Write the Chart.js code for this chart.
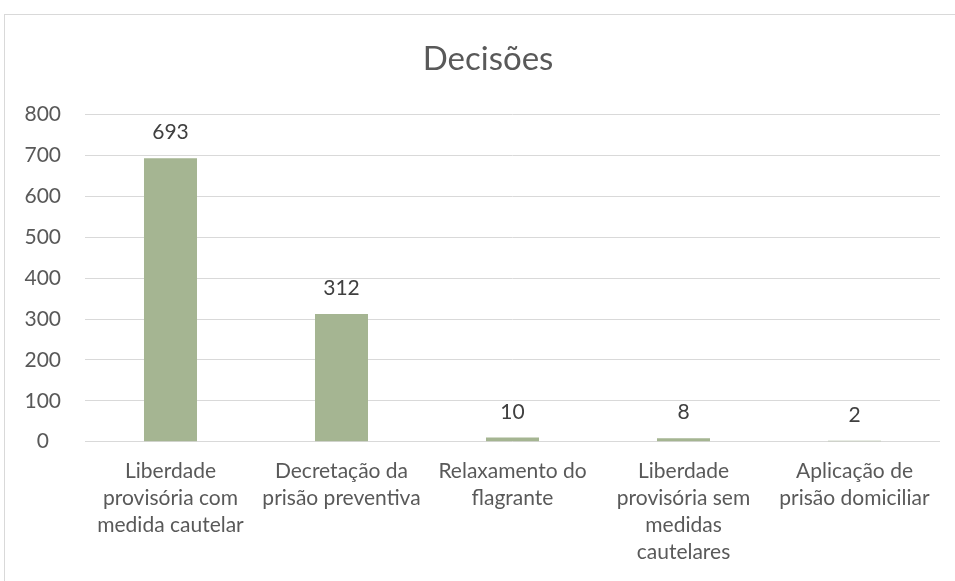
<!DOCTYPE html>
<html>
<head>
<meta charset="utf-8">
<script src="https://cdn.jsdelivr.net/npm/chart.js@4/dist/chart.umd.min.js"></script>
<style>
  html, body { margin: 0; padding: 0; background: #fff; }
  #wrap { position: relative; width: 955px; height: 581px; overflow: hidden; }
  #frame { position: absolute; left: 4px; top: 14px; width: 980px; height: 600px; border: 1px solid #d9d9d9; box-sizing: border-box; }
  canvas { position: absolute; left: 0; top: 0; }
</style>
</head>
<body>
<div id="wrap">
  <div id="frame"></div>
  <canvas id="chart" width="955" height="581"></canvas>
</div>
<script>
let categories = [
	["Liberdade", "provisória com", "medida cautelar"],
	["Decretação da", "prisão preventiva"],
	["Relaxamento do", "flagrante"],
	["Liberdade", "provisória sem", "medidas", "cautelares"],
	["Aplicação de", "prisão domiciliar"],
];
let decisoes = [693, 312, 10, 8, 2];
let yTicks = [0, 100, 200, 300, 400, 500, 600, 700, 800];

const fontName = "Lato, 'Noto Sans', sans-serif";

// draws the value above each bar
const valueLabels = {
	id: "valueLabels",
	afterLayout(chart) {
		// title sits a bit right of the canvas centre in the original
		if (chart.titleBlock) {
			chart.titleBlock.left += 18;
			chart.titleBlock.right += 18;
		}
	},
	afterDatasetsDraw(chart) {
		let ctx = chart.ctx;
		let meta = chart.getDatasetMeta(0);
		ctx.save();
		ctx.font = "21px " + fontName;
		ctx.fillStyle = "#404040";
		ctx.textAlign = "center";
		ctx.textBaseline = "alphabetic";
		meta.data.forEach((bar, i) => {
			ctx.fillText(decisoes[i], bar.x, bar.y - 19);
		});
		ctx.restore();
	},
};

let data = {
	labels: categories,
	datasets: [
		{
			backgroundColor: "#A5B592",
			data: decisoes,
			barPercentage: 0.62,
			categoryPercentage: 0.5,
		},
	],
};

let config = {
	type: "bar",
	data: data,
	plugins: [valueLabels],
	options: {
		responsive: false,
		animation: false,
		layout: {
			padding: { top: 40, right: 15, bottom: 7, left: 0 },
		},
		plugins: {
			legend: { display: false },
			tooltip: { enabled: false },
			title: {
				display: true,
				text: "Decisões",
				color: "#595959",
				font: { family: fontName, size: 33, weight: "normal" },
				padding: { top: 0, bottom: 35 },
			},
		},
		scales: {
			x: {
				grid: { display: false },
				border: { display: false },
				ticks: {
					color: "#595959",
					font: { family: fontName, size: 21, lineHeight: 1.29 },
					maxRotation: 0,
					autoSkip: false,
					padding: 8,
				},
			},
			y: {
				min: 0,
				max: 800,
				afterFit(scale) {
					scale.width = 85;
				},
				afterBuildTicks(scale) {
					scale.ticks = yTicks.map((v) => ({ value: v }));
				},
				grid: { color: "#d9d9d9", drawTicks: false },
				border: { display: false },
				ticks: {
					color: "#595959",
					font: { family: fontName, size: 21 },
					crossAlign: "center",
					padding: 24,
				},
			},
		},
	},
};

const chart = new Chart(document.getElementById("chart"), config);
</script>
</body>
</html>
